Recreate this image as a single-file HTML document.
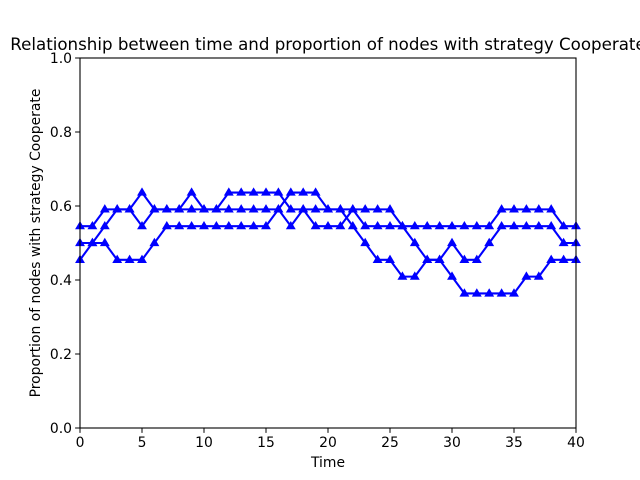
<!DOCTYPE html>
<html><head><meta charset="utf-8"><style>
body{margin:0;background:#fff;}
svg{display:block;font-family:"DejaVu Sans","Liberation Sans",sans-serif;}
</style></head><body>
<svg id="chart" width="640" height="480">
<rect width="640" height="480" fill="#fff"/>
<text x="328" y="50" font-size="16.67" text-anchor="middle">Relationship between time and proportion of nodes with strategy Cooperate</text>
<g id="plot"></g>
<text x="328" y="467" font-size="13.9" text-anchor="middle">Time</text>
<text transform="translate(40,243) rotate(-90)" font-size="13.9" text-anchor="middle">Proportion of nodes with strategy Cooperate</text>
</svg>
<script>
const xTicks=[0,5,10,15,20,25,30,35,40];
const yTicks=[0.0,0.2,0.4,0.6,0.8,1.0];
const yTickLabels=["0.0","0.2","0.4","0.6","0.8","1.0"];
const series1=[0.5455,0.5455,0.5909,0.5909,0.5909,0.6364,0.5909,0.5909,0.5909,0.6364,0.5909,0.5909,0.6364,0.6364,0.6364,0.6364,0.6364,0.5909,0.5909,0.5909,0.5909,0.5909,0.5455,0.5,0.4545,0.4545,0.4091,0.4091,0.4545,0.4545,0.4091,0.3636,0.3636,0.3636,0.3636,0.3636,0.4091,0.4091,0.4545,0.4545,0.4545];
const series2=[0.5,0.5,0.5455,0.5909,0.5909,0.5455,0.5909,0.5909,0.5909,0.5909,0.5909,0.5909,0.5909,0.5909,0.5909,0.5909,0.5909,0.6364,0.6364,0.6364,0.5909,0.5909,0.5909,0.5909,0.5909,0.5909,0.5455,0.5455,0.5455,0.5455,0.5455,0.5455,0.5455,0.5455,0.5909,0.5909,0.5909,0.5909,0.5909,0.5455,0.5455];
const series3=[0.4545,0.5,0.5,0.4545,0.4545,0.4545,0.5,0.5455,0.5455,0.5455,0.5455,0.5455,0.5455,0.5455,0.5455,0.5455,0.5909,0.5455,0.5909,0.5455,0.5455,0.5455,0.5909,0.5455,0.5455,0.5455,0.5455,0.5,0.4545,0.4545,0.5,0.4545,0.4545,0.5,0.5455,0.5455,0.5455,0.5455,0.5455,0.5,0.5];
const allSeries=[series1,series2,series3];
const NS="http://www.w3.org/2000/svg";
const L=80,R=576,T=58,B=428;
const xs=v=>L+(v-0)/40*(R-L);
const ys=v=>B-(v-0)/1*(B-T);
const g=document.getElementById('plot');
function mk(tag,attrs){const e=document.createElementNS(NS,tag);for(const k in attrs)e.setAttribute(k,attrs[k]);g.appendChild(e);return e;}
allSeries.forEach((s,si)=>{
  const pts=s.map((v,i)=>xs(i).toFixed(2)+','+ys(v).toFixed(2)).join(' ');
  const pl=mk('polyline',{points:pts,fill:'none',stroke:'#0000ff','stroke-width':2.08,'stroke-linejoin':'round'});
  
  
  s.forEach((v,i)=>{
    const cx=xs(i),cy=ys(v),r=5.2;
    const m=mk('polygon',{points:`${cx},${cy-r} ${cx-r*0.95},${cy+r*0.6} ${cx+r*0.95},${cy+r*0.6}`,fill:'#0000ff'});
    
    
  });
});
const frame=mk('rect',{x:L,y:T,width:R-L,height:B-T,fill:'none',stroke:'#000','stroke-width':1.1});


xTicks.forEach(t=>{
  const x=xs(t);
  const tk=mk('line',{x1:x,x2:x,y1:B,y2:B+4.9,stroke:'#000'});
  
  
  const tl=mk('text',{x:x,y:B+19,'font-size':13.9,'text-anchor':'middle'});
  tl.textContent=String(t);
  
  
});
yTicks.forEach((t,i)=>{
  const y=ys(t);
  const tk=mk('line',{x1:L-4.9,x2:L,y1:y,y2:y,stroke:'#000'});
  
  
  const tl=mk('text',{x:L-8,y:y+5,'font-size':13.9,'text-anchor':'end'});
  tl.textContent=yTickLabels[i];
  
  
});
</script>
</body></html>
